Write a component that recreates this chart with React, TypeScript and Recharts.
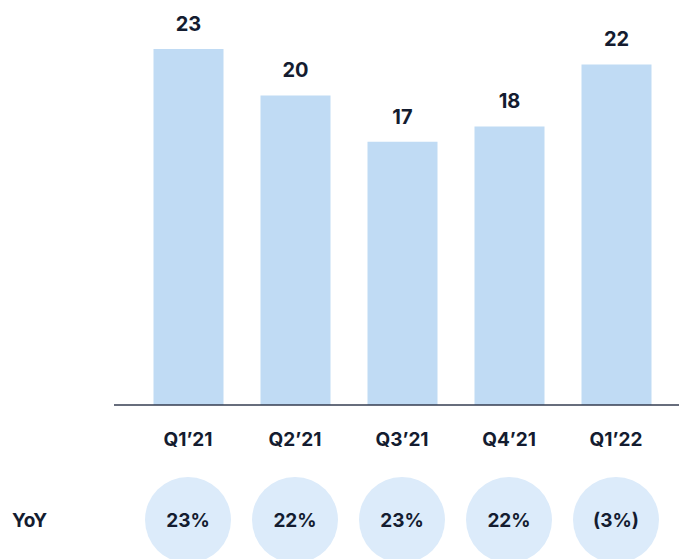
import { Bar, BarChart, LabelList, XAxis, YAxis } from "recharts";

const quarters = ["Q1’21", "Q2’21", "Q3’21", "Q4’21", "Q1’22"];
const values = [23, 20, 17, 18, 22];
const yoy = ["23%", "22%", "23%", "22%", "(3%)"];

const BAR_COLOR = "#c0dbf4";
const CIRCLE_COLOR = "#dcebfa";
const TEXT_COLOR = "#141c30";
const FONT = "Inter, 'Noto Sans', sans-serif";

const data = quarters.map((q, i) => ({ name: q, value: values[i], yoy: yoy[i] }));

function QuarterTick(props: any) {
  const { x, y, payload } = props;
  const idx = payload.index;
  return (
    <g transform={`translate(${x},${y})`}>
      <text
        y={34}
        textAnchor="middle"
        dominantBaseline="central"
        fontSize={19}
        fontWeight={700}
        fill={TEXT_COLOR}
        fontFamily={FONT}
      >
        {payload.value}
      </text>
      <circle cy={115} r={43} fill={CIRCLE_COLOR} />
      <text
        y={115}
        textAnchor="middle"
        dominantBaseline="central"
        fontSize={19}
        fontWeight={700}
        fill={TEXT_COLOR}
        fontFamily={FONT}
      >
        {yoy[idx]}
      </text>
      {idx === 0 && (
        <text
          x={12 - x}
          y={115}
          dominantBaseline="central"
          fontSize={19}
          fontWeight={700}
          fill={TEXT_COLOR}
          fontFamily={FONT}
        >
          YoY
        </text>
      )}
    </g>
  );
}

export default function App() {
  return (
    <div style={{ position: "fixed", top: 0, left: 0, background: "#fff" }}>
      <BarChart
        width={679}
        height={559}
        data={data}
        margin={{ top: 33.5, right: 0, left: 114, bottom: 0 }}
      >
        <YAxis hide domain={[0, 24]} />
        <XAxis
          dataKey="name"
          axisLine={{ stroke: "#343c50", strokeWidth: 1.5 }}
          tickLine={false}
          tickSize={0}
          tickMargin={0}
          padding={{ left: 20.5, right: 9.5 }}
          interval={0}
          height={154}
          tick={<QuarterTick />}
        />
        <Bar dataKey="value" fill={BAR_COLOR} barSize={70} isAnimationActive={false}>
          <LabelList
            dataKey="value"
            position="top"
            offset={18}
            fontSize={20}
            fontWeight={700}
            fill={TEXT_COLOR}
            fontFamily={FONT}
          />
        </Bar>
      </BarChart>
    </div>
  );
}
